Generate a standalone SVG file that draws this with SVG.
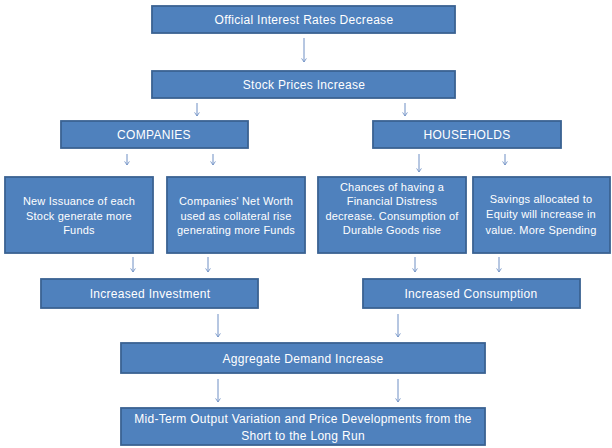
<svg xmlns="http://www.w3.org/2000/svg" width="612" height="448" viewBox="0 0 612 448">
<defs>
<style>
.box{fill:#4F81BD;stroke:#3A6292;stroke-width:1.8}
.t{font-family:"Liberation Sans",Arial,sans-serif;fill:#FFFFFF;text-anchor:middle;font-size:12px;letter-spacing:0.3px}
.s{font-size:11px;letter-spacing:0.2px}
.c{stroke:#6E8FC4;stroke-width:1;fill:none;marker-end:url(#ah)}
</style>
<marker id="ah" viewBox="0 0 10 10" refX="9" refY="5" markerWidth="6" markerHeight="6" orient="auto" markerUnits="userSpaceOnUse">
<path d="M3,1 L9,5 L3,9" fill="none" stroke="#6E8FC4" stroke-width="1.4"/>
</marker>
</defs>
<rect width="612" height="448" fill="#FFFFFF"/>
<g id="connectors">
<line class="c" x1="304" y1="38" x2="304" y2="62"/>
<line class="c" x1="197" y1="103" x2="197" y2="116"/>
<line class="c" x1="405" y1="103" x2="405" y2="116"/>
<line class="c" x1="127" y1="154" x2="127" y2="165"/>
<line class="c" x1="213" y1="154" x2="213" y2="165"/>
<line class="c" x1="419" y1="154" x2="419" y2="172"/>
<line class="c" x1="505" y1="154" x2="505" y2="165"/>
<line class="c" x1="133" y1="257" x2="133" y2="272"/>
<line class="c" x1="208" y1="257" x2="208" y2="272"/>
<line class="c" x1="415" y1="257" x2="415" y2="272"/>
<line class="c" x1="499" y1="257" x2="499" y2="272"/>
<line class="c" x1="218" y1="314" x2="218" y2="337"/>
<line class="c" x1="398" y1="314" x2="398" y2="337"/>
<line class="c" x1="218" y1="379" x2="218" y2="402"/>
<line class="c" x1="398" y1="379" x2="398" y2="402"/>
</g>
<g id="n1"><rect class="box" x="152" y="6" width="303" height="27"/><text class="t" x="304" y="24">Official Interest Rates Decrease</text></g>
<g id="n2"><rect class="box" x="152" y="71" width="303" height="27"/><text class="t" x="304" y="89">Stock Prices Increase</text></g>
<g id="n3"><rect class="box" x="61" y="121" width="187" height="27"/><text class="t" x="154" y="139">COMPANIES</text></g>
<g id="n4"><rect class="box" x="373" y="121" width="188" height="27"/><text class="t" x="467" y="139">HOUSEHOLDS</text></g>
<g id="n5"><rect class="box" x="5" y="177" width="148" height="76"/><text class="t s" x="79" y="205">New Issuance of each</text><text class="t s" x="79" y="219.5">Stock generate more</text><text class="t s" x="79" y="234">Funds</text></g>
<g id="n6"><rect class="box" x="167" y="177" width="138" height="76"/><text class="t s" x="236" y="205">Companies' Net Worth</text><text class="t s" x="236" y="219.5">used as collateral rise</text><text class="t s" x="236" y="234">generating more Funds</text></g>
<g id="n7"><rect class="box" x="318" y="177" width="148" height="76"/><text class="t s" x="392" y="190.5">Chances of having a</text><text class="t s" x="392" y="205">Financial Distress</text><text class="t s" x="392" y="219.5">decrease. Consumption of</text><text class="t s" x="392" y="234">Durable Goods rise</text></g>
<g id="n8"><rect class="box" x="473" y="177" width="137" height="76"/><text class="t s" x="541" y="202.5">Savings allocated to</text><text class="t s" x="541" y="217.5">Equity will increase in</text><text class="t s" x="541" y="233.5">value. More Spending</text></g>
<g id="n9"><rect class="box" x="41" y="279" width="217" height="29"/><text class="t" x="150" y="298">Increased Investment</text></g>
<g id="n10"><rect class="box" x="363" y="279" width="217" height="29"/><text class="t" x="471" y="298">Increased Consumption</text></g>
<g id="n11"><rect class="box" x="121" y="343" width="364" height="30"/><text class="t" x="303" y="362.5">Aggregate Demand Increase</text></g>
<g id="n12"><rect class="box" x="121" y="408" width="364" height="37"/><text class="t" x="303" y="423">Mid-Term Output Variation and Price Developments  from the</text><text class="t" x="303" y="439.5">Short to the Long Run</text></g>
</svg>
